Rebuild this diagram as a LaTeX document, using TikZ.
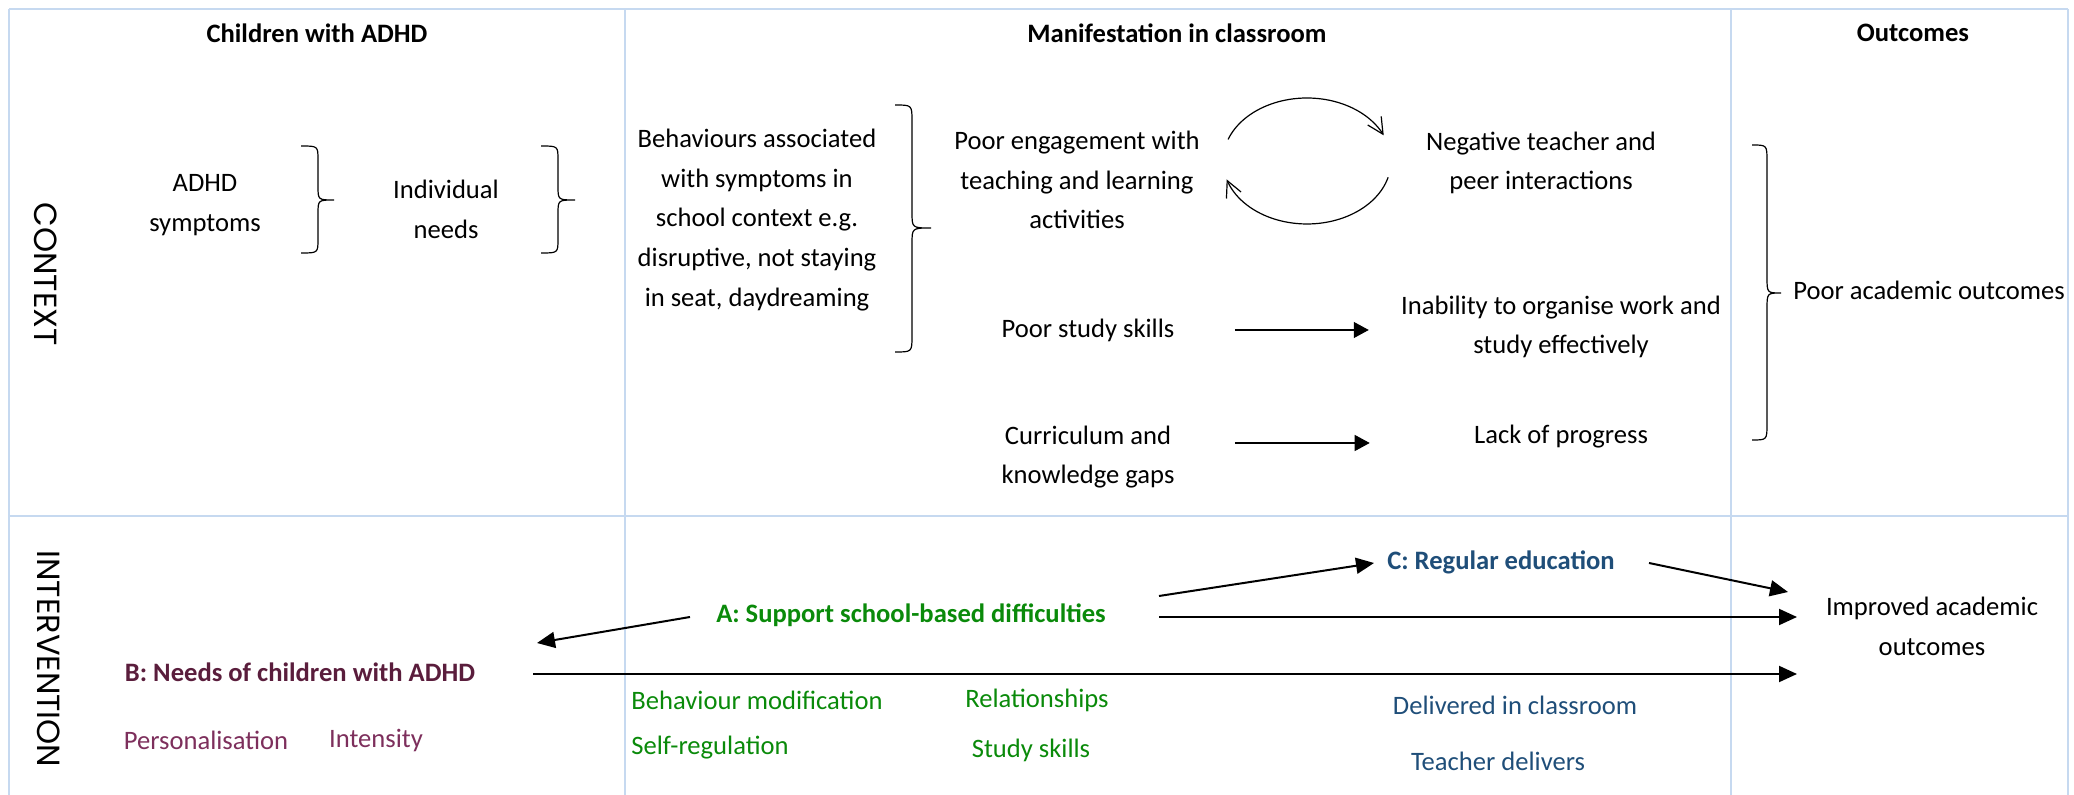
\documentclass[tikz,border=0pt]{standalone}
\usepackage{fontspec}
\setmainfont{Carlito}
\newfontfamily\gothicfont{Poppins}
\usetikzlibrary{arrows.meta}
\definecolor{gridblue}{HTML}{C6D9F0}
\definecolor{agreen}{HTML}{0A8A0A}
\definecolor{bpurple}{HTML}{5A1D3C}
\definecolor{ppurple}{HTML}{7D2F5C}
\definecolor{cblue}{HTML}{1F4E79}
\newcommand\bodyfont{\fontsize{13.3pt}{19.9pt}\selectfont}
\newcommand\drawbrace[7]{%
  \draw[bracestyle] (#1,#4) .. controls (#2,#4) .. (#2,#4+#7) -- (#2,#5-#7)
    .. controls (#2,#5) .. (#3,#5) .. controls (#2,#5) .. (#2,#5+#7)
    -- (#2,#6-#7) .. controls (#2,#6) .. (#1,#6);}
\tikzset{
  grid/.style={draw=gridblue, line width=1pt},
  txt/.style={font=\bodyfont, align=center, inner sep=0pt},
  hdr/.style={txt, font=\bodyfont\bfseries},
  rowlbl/.style={font=\gothicfont\fontsize{16pt}{18pt}\selectfont, inner sep=0pt},
  gtxt/.style={txt, text=agreen},
  ptxt/.style={txt, text=ppurple},
  btxt/.style={txt, text=cblue},
  bracestyle/.style={line width=0.6pt},
  carr/.style={line width=0.6pt, -{Triangle[length=7.5pt,width=8pt]}},
  iarr/.style={line width=1pt, -{Triangle[length=9pt,width=8pt]}},
  cyc/.style={line width=0.6pt, -{Straight Barb[length=8pt,width=8pt]}}
}
\begin{document}
\begin{tikzpicture}[x=0.5pt,y=-0.5pt]
\useasboundingbox (0,0) rectangle (2074,795);
% table
\draw[grid] (9,9) -- (2068,9);
\draw[grid] (9,9) -- (9,795);
\draw[grid] (625,9) -- (625,795);
\draw[grid] (1731,9) -- (1731,795);
\draw[grid] (2068,9) -- (2068,795);
\draw[grid] (9,516) -- (2068,516);
% headers
\node[hdr] (h1) at (317,33) {Children with ADHD};
\node[hdr] (h2) at (1177,33) {Manifestation in classroom};
\node[hdr] (h3) at (1913,33) {Outcomes};
\node[rowlbl, rotate=-90] (ctx) at (46,274) {CONTEXT};
\node[rowlbl, rotate=-90] (intv) at (49,659) {INTERVENTION};
% context
\node[txt] (sym) at (205,205) {ADHD\\symptoms};
\node[txt] (ind) at (446,209) {Individual\\needs};
\node[txt] (beh) at (757,220) {Behaviours associated\\with symptoms in\\school context e.g.\\disruptive, not staying\\in seat, daydreaming};
\node[txt] (eng) at (1077,180) {Poor engagement with\\teaching and learning\\activities};
\node[txt] (neg) at (1541,163) {Negative teacher and\\peer interactions};
\node[txt] (pss) at (1088,330) {Poor study skills};
\node[txt] (ina) at (1561,327) {Inability to organise work and\\study effectively};
\node[txt] (cur) at (1088,457) {Curriculum and\\knowledge gaps};
\node[txt] (lop) at (1561,437) {Lack of progress};
\node[txt] (pao) at (1929,290) {Poor academic outcomes};
% braces
\drawbrace{301}{318}{334}{146}{200}{253}{14}
\drawbrace{541}{558}{575}{146}{200}{253}{14}
\drawbrace{895}{912}{931}{105}{228}{352}{16}
\drawbrace{1752}{1767}{1781}{145}{293}{440}{16}
% cycle between engagement and interactions
\draw[cyc] plot[domain=200:336, samples=50] ({1307+84*cos(\x)}, {161+63*sin(\x)});
\draw[cyc] plot[domain=15:163, samples=50] ({1307+84*cos(\x)}, {161+63*sin(\x)});
% context arrows
\draw[carr, shorten <=30pt, shorten >=16pt] (pss.east) -- (pss.east -| ina.west);
\coordinate (lopin) at ([yshift=-3pt]lop.west);
\draw[carr, shorten <=30pt, shorten >=52pt] (lopin -| cur.east) -- (lopin);
% intervention
\node[hdr, text=agreen] (A) at (911,615) {A: Support school-based difficulties};
\node[hdr, text=bpurple] (B) at (300,672) {B: Needs of children with ADHD};
\node[hdr, text=cblue] (C) at (1501,562) {C: Regular education};
\node[txt] (imp) at (1932,626) {Improved academic\\outcomes};
\node[ptxt] (pers) at (206,740) {Personalisation};
\node[ptxt] (inten) at (376,740) {Intensity};
\node[gtxt, anchor=west] (bm) at (631,700) {Behaviour modification};
\node[gtxt, anchor=west] (sr) at (631,748) {Self-regulation};
\node[gtxt] (rel) at (1037,700) {Relationships};
\node[gtxt] (ss) at (1031,750) {Study skills};
\node[btxt] (dic) at (1515,705) {Delivered in classroom};
\node[btxt] (td) at (1498,761) {Teacher delivers};
% arrow endpoints
\coordinate (aB) at (690,617);
\coordinate (bA) at (537,643);
\coordinate (bOut) at (533,674);
\coordinate (impB) at (1797,674);
\coordinate (aC) at (1159,596);
\coordinate (cA) at (1374,563);
\coordinate (cOut) at (1649,563);
\coordinate (impC) at (1788,592);
\coordinate (aOut) at (1159,617);
\coordinate (impA) at (1797,617);
\draw[iarr] (aB) -- (bA);
\draw[iarr] (bOut) -- (impB);
\draw[iarr] (aC) -- (cA);
\draw[iarr] (cOut) -- (impC);
\draw[iarr] (aOut) -- (impA);
\end{tikzpicture}
\end{document}
